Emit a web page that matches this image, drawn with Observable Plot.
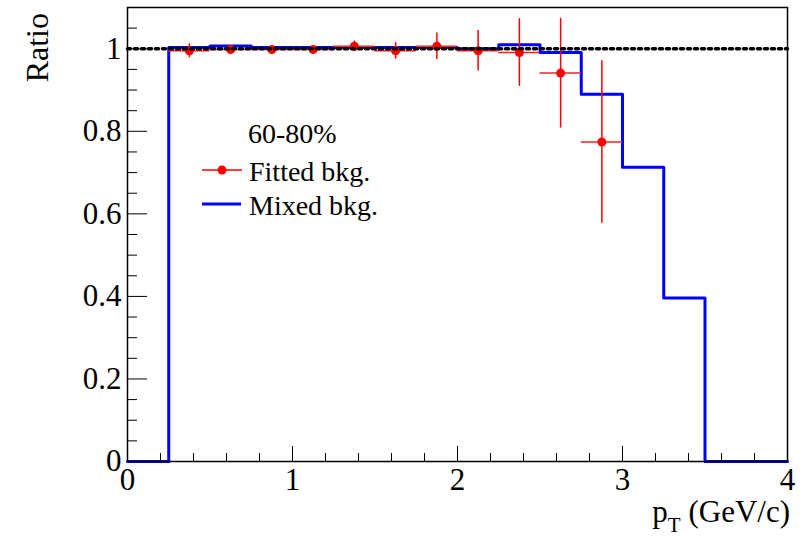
<!DOCTYPE html>
<html><head><meta charset="utf-8">
<script src="https://cdn.jsdelivr.net/npm/d3@7"></script>
<script src="https://cdn.jsdelivr.net/npm/@observablehq/plot@0.6"></script>
<style>body{margin:0;background:#fff} #chart{width:807px;height:541px}</style>
</head><body><div id="chart"></div>
<script>
// Mixed-background histogram (bin edges, contents)
const binEdges = [0,0.25,0.5,0.75,1,1.25,1.5,1.75,2,2.25,2.5,2.75,3,3.25,3.5,3.75,4];
const mixedRatio = [0,1.003,1.007,1.003,1.003,1.003,1.003,1.003,1.000,1.010,0.991,0.890,0.713,0.396,0,0];
// Fitted-background points
const fitPt = [0.375,0.625,0.875,1.125,1.375,1.625,1.875,2.125,2.375,2.625,2.875];
const fitRatio = [0.995,0.998,0.998,0.998,1.006,0.995,1.006,0.995,0.991,0.941,0.774];
const fitErr = [0.017,0.008,0.008,0.008,0.013,0.020,0.032,0.049,0.082,0.133,0.197];
const fitXErr = 0.125;
// Axis ticks
const yMajor = [0,0.2,0.4,0.6,0.8,1];
const yMinor = [0.05,0.1,0.15,0.25,0.3,0.35,0.45,0.5,0.55,0.65,0.7,0.75,0.85,0.9,0.95,1.05,1.1];
const xMajor = [0,1,2,3,4];
const xMinor = [0.2,0.4,0.6,0.8,1.2,1.4,1.6,1.8,2.2,2.4,2.6,2.8,3.2,3.4,3.6,3.8];
const refLine = [0,4];

const W = 807, H = 541, ML = 127, MR = 20, MT = 7, MB = 80;
const PW = W - ML - MR, PH = H - MT - MB;
const font = "'Liberation Serif', 'Times New Roman', serif";

const histPts = binEdges.map((e, i) => ({x: e, y: i < mixedRatio.length ? mixedRatio[i] : mixedRatio[mixedRatio.length - 1]}));
const fit = fitPt.map((x, i) => ({x, y: fitRatio[i], e: fitErr[i]}));

const chart = Plot.plot({
  width: W, height: H,
  marginLeft: ML, marginRight: MR, marginTop: MT, marginBottom: MB,
  style: {fontFamily: font, background: "white", color: "black", overflow: "visible"},
  x: {domain: [0, 4]},
  y: {domain: [0, 1.1]},
  marks: [
    Plot.line(histPts, {x: "x", y: "y", curve: "step-after", stroke: "#0000ff", strokeWidth: 3}),
    Plot.ruleY(fit, {y: "y", x1: d => d.x - fitXErr, x2: d => d.x + fitXErr, stroke: "#ff2020", strokeWidth: 1.5}),
    Plot.ruleX(fit, {x: "x", y1: d => d.y - d.e, y2: d => d.y + d.e, stroke: "#ff0000", strokeWidth: 1.5}),
    Plot.dot(fit, {x: "x", y: "y", r: 4.5, fill: "#ff0000", stroke: "none"}),
    Plot.lineY(refLine.map(x => ({x, y: 1})), {x: "x", y: "y", stroke: "black", strokeWidth: 3.5, strokeDasharray: "3,4"}),
    Plot.tickY(yMajor, {y: d => d, insetRight: PW - 20, stroke: "black", strokeWidth: 1}),
    Plot.tickY(yMinor, {y: d => d, insetRight: PW - 10, stroke: "black", strokeWidth: 1}),
    Plot.tickX(xMajor, {x: d => d, insetTop: PH - 15, stroke: "black", strokeWidth: 1}),
    Plot.tickX(xMinor, {x: d => d, insetTop: PH - 8, stroke: "black", strokeWidth: 1}),
    Plot.axisY(yMajor, {tickSize: 0, tickPadding: 6, fontSize: 31, label: null, tickFormat: d => String(d)}),
    Plot.axisX(xMajor, {tickSize: 0, tickPadding: 6, fontSize: 31, label: null, tickFormat: d => String(d)}),
    Plot.frame({stroke: "black", strokeWidth: 1.5})
  ]
});
document.getElementById("chart").appendChild(chart);

const svg = d3.select(chart);
svg.append("text").attr("transform", "translate(48,13) rotate(-90)")
  .attr("text-anchor", "end").attr("font-family", font).attr("font-size", 32).attr("fill", "black").text("Ratio");

const xt = svg.append("text").attr("x", 790).attr("y", 522).attr("text-anchor", "end")
  .attr("font-family", font).attr("font-size", 31).attr("fill", "black");
xt.append("tspan").text("p");
xt.append("tspan").attr("font-size", 21).attr("dy", 10).text("T");
xt.append("tspan").attr("dy", -10).text(" (GeV/c)");

const lg = svg.append("g").attr("font-family", font).attr("font-size", 28).attr("fill", "black").attr("text-anchor", "start");
lg.append("text").attr("x", 248).attr("y", 143).text("60-80%");
lg.append("line").attr("x1", 202).attr("x2", 242).attr("y1", 170).attr("y2", 170).attr("stroke", "#ff0000").attr("stroke-width", 1.5);
lg.append("circle").attr("cx", 222).attr("cy", 170).attr("r", 4.5).attr("fill", "#ff0000");
lg.append("text").attr("x", 249).attr("y", 181).text("Fitted bkg.");
lg.append("line").attr("x1", 202).attr("x2", 241).attr("y1", 204).attr("y2", 204).attr("stroke", "#0000ff").attr("stroke-width", 3);
lg.append("text").attr("x", 249).attr("y", 215).text("Mixed bkg.");
</script>
</body></html>
